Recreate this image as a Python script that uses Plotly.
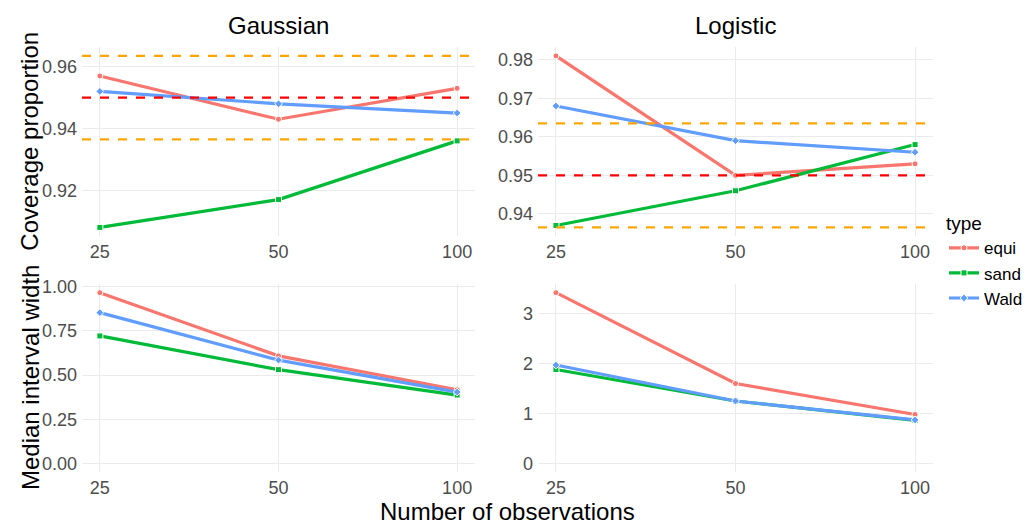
import math
import plotly.graph_objects as go

# ---------------- data ----------------
n_obs = [25, 50, 100]
types = ["equi", "sand", "Wald"]
type_colors = ["#F8766D", "#00BA38", "#619CFF"]
type_symbols = ["circle", "square", "diamond"]

cov_gauss_equi = [0.957, 0.943, 0.953]
cov_gauss_sand = [0.908, 0.917, 0.936]
cov_gauss_wald = [0.952, 0.948, 0.945]

cov_logis_equi = [0.981, 0.950, 0.953]
cov_logis_sand = [0.937, 0.946, 0.958]
cov_logis_wald = [0.968, 0.959, 0.956]

wid_gauss_equi = [0.967, 0.609, 0.417]
wid_gauss_sand = [0.722, 0.531, 0.387]
wid_gauss_wald = [0.854, 0.585, 0.404]

wid_logis_equi = [3.42, 1.60, 0.98]
wid_logis_sand = [1.88, 1.25, 0.86]
wid_logis_wald = [1.97, 1.25, 0.87]

nominal_level = [0.95]
mc_bounds = [0.9365, 0.9635]

facet_titles = ["Gaussian", "Logistic"]
row_titles = ["Coverage proportion", "Median interval width"]
x_title = "Number of observations"
legend_title = "type"

# ---------------- layout helpers ----------------
W, H = 1032, 525
FONT = "Liberation Sans, Arial, sans-serif"
TICK_COL = "#4D4D4D"
GRID_COL = "#EBEBEB"
TICK_SIZE = 18
TITLE_SIZE = 24

xdom = [[82 / W, 475 / W], [538 / W, 933 / W]]
ydom = [[1 - 233 / H, 1 - 41 / H], [1 - 473 / H, 1 - 282 / H]]  # top row, bottom row

panels = [
    (0, 0, [cov_gauss_equi, cov_gauss_sand, cov_gauss_wald], True, [0.92, 0.94, 0.96], ".2f", False),
    (0, 1, [cov_logis_equi, cov_logis_sand, cov_logis_wald], True, [0.94, 0.95, 0.96, 0.97, 0.98], ".2f", False),
    (1, 0, [wid_gauss_equi, wid_gauss_sand, wid_gauss_wald], False, [0, 0.25, 0.5, 0.75, 1.0], ".2f", True),
    (1, 1, [wid_logis_equi, wid_logis_sand, wid_logis_wald], False, [0, 1, 2, 3], "d", True),
]

lx0, lx1 = math.log10(min(n_obs)), math.log10(max(n_obs))
xpad = (lx1 - lx0) * 0.05
xrange_log = [lx0 - xpad, lx1 + xpad]

fig = go.Figure()
layout = dict(
    width=W, height=H,
    margin=dict(l=0, r=0, t=0, b=0),
    paper_bgcolor="white", plot_bgcolor="white",
    font=dict(family=FONT, color="black"),
    showlegend=True,
)
shapes = []
annotations = []

for idx, (r, c, series, hl, ticks, tfmt, zero) in enumerate(panels):
    ax = idx + 1
    xa = "x" if ax == 1 else f"x{ax}"
    ya = "y" if ax == 1 else f"y{ax}"
    allv = [v for s in series for v in s]
    if hl:
        allv += nominal_level + mc_bounds
    if zero:
        allv += [0]
    lo, hi = min(allv), max(allv)
    pad = (hi - lo) * 0.05
    yr = [lo - pad, hi + pad]

    layout["xaxis" + ("" if ax == 1 else str(ax))] = dict(
        domain=xdom[c], anchor=ya, type="log", range=xrange_log,
        tickvals=n_obs, ticktext=[str(v) for v in n_obs],
        showgrid=True, gridcolor=GRID_COL, gridwidth=1.2,
        zeroline=False, showline=False, ticks="", ticklabelstandoff=3,
        tickfont=dict(size=TICK_SIZE, color=TICK_COL, family=FONT),
    )
    layout["yaxis" + ("" if ax == 1 else str(ax))] = dict(
        domain=ydom[r], anchor=xa, range=yr,
        tickvals=ticks, tickformat=tfmt,
        showgrid=True, gridcolor=GRID_COL, gridwidth=1.2,
        zeroline=False, showline=False, ticks="", ticklabelstandoff=4,
        tickfont=dict(size=TICK_SIZE, color=TICK_COL, family=FONT),
    )
    if hl:
        for yv, col in [(nominal_level[0], "#FF0000"), (mc_bounds[0], "#FFA500"), (mc_bounds[1], "#FFA500")]:
            shapes.append(dict(
                type="line", xref=f"{xa} domain", yref=ya, x0=0, x1=1, y0=yv, y1=yv,
                line=dict(color=col, width=2.2, dash="9px,9px"), layer="above",
            ))
    for k, vals in enumerate(series):
        fig.add_trace(go.Scatter(
            x=n_obs, y=vals, xaxis=xa, yaxis=ya,
            mode="lines+markers", name=types[k], legendgroup=types[k],
            showlegend=(idx == 0),
            line=dict(color=type_colors[k], width=3.2),
            marker=dict(symbol=type_symbols[k], size=6, color=type_colors[k],
                        line=dict(color="white", width=1)),
        ))

for c, t in enumerate(facet_titles):
    annotations.append(dict(
        text=t, xref="paper", yref="paper", x=(xdom[c][0] + xdom[c][1]) / 2,
        y=1 - 19 / H, xanchor="center", yanchor="middle", showarrow=False,
        font=dict(size=TITLE_SIZE, color="black", family=FONT),
    ))
for r, t in enumerate(row_titles):
    annotations.append(dict(
        text=t, xref="paper", yref="paper", x=30 / W,
        y=(ydom[r][0] + ydom[r][1]) / 2, xanchor="center", yanchor="middle",
        textangle=-90, showarrow=False,
        font=dict(size=TITLE_SIZE, color="black", family=FONT),
    ))
annotations.append(dict(
    text=x_title, xref="paper", yref="paper", x=(xdom[0][0] + xdom[1][1]) / 2,
    y=1 - 513 / H, xanchor="center", yanchor="middle", showarrow=False,
    font=dict(size=TITLE_SIZE, color="black", family=FONT),
))

layout["shapes"] = shapes
layout["annotations"] = annotations
layout["legend"] = dict(
    title=dict(text=legend_title, font=dict(size=19, color="black", family=FONT)),
    x=944 / W, y=1 - 202 / H, xanchor="left", yanchor="top",
    font=dict(size=17, color="black", family=FONT),
    tracegroupgap=0, itemwidth=30, bgcolor="rgba(0,0,0,0)",
)
fig.update_layout(**layout)
fig.write_html("out.html")
